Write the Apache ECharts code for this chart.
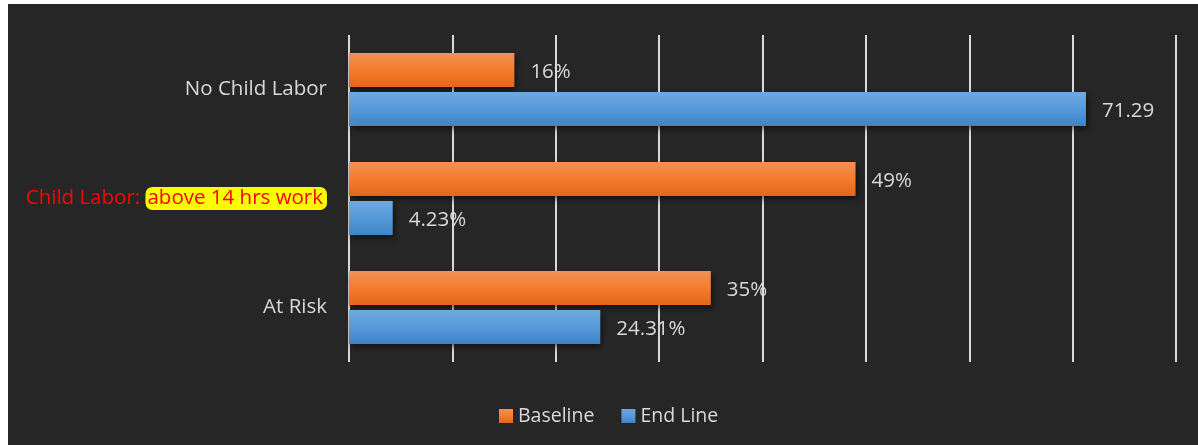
<!DOCTYPE html>
<html>
<head>
<meta charset="utf-8">
<script src="https://cdn.jsdelivr.net/npm/echarts@6/dist/echarts.min.js"></script>
<style>
  html, body { margin: 0; padding: 0; background: #ffffff; }
  #chart { position: absolute; left: 8px; top: 4px; width: 1190px; height: 441px; background: #262626; }
</style>
</head>
<body>
<div id="chart"></div>
<script>
// Categories listed top to bottom
const categories = ['No Child Labor', 'Child Labor: above 14 hrs work', 'At Risk'];
const baselineValues = [16, 49, 35];
const endLineValues = [71.29, 4.23, 24.31];
const baselineLabels = ['16%', '49%', '35%'];
const endLineLabels = ['71.29', '4.23%', '24.31%'];
const seriesNames = ['Baseline', 'End Line'];

const FONT = '"Open Sans", "Noto Sans", sans-serif';
const TEXT = '#d9d9d9';
const SIZE = 20.5;

const orangeFill = new echarts.graphic.LinearGradient(0, 0, 0, 1, [
  { offset: 0, color: '#f39158' },
  { offset: 0.5, color: '#f47c2c' },
  { offset: 1, color: '#e4661a' }
]);
const blueFill = new echarts.graphic.LinearGradient(0, 0, 0, 1, [
  { offset: 0, color: '#70a8de' },
  { offset: 0.5, color: '#559ad9' },
  { offset: 1, color: '#3e84c6' }
]);

function barSeries(name, values, labels, fill, legendColor) {
  return {
    name: name,
    type: 'bar',
    data: values,
    barWidth: 34,
    barGap: '15%',
    color: legendColor,
    itemStyle: {
      color: fill,
      shadowColor: 'rgba(0,0,0,0.55)',
      shadowBlur: 6,
      shadowOffsetX: 2,
      shadowOffsetY: 3
    },
    label: {
      show: true,
      position: 'right',
      distance: 16,
      offset: [0, 2],
      color: TEXT,
      fontFamily: FONT,
      fontSize: SIZE,
      formatter: p => labels[p.dataIndex]
    }
  };
}

const chart = echarts.init(document.getElementById('chart'));
chart.setOption({
  backgroundColor: '#262626',
  animation: false,
  legend: {
    data: seriesNames,
    left: 486,
    top: 397,
    itemWidth: 14,
    itemHeight: 14,
    itemGap: 27,
    icon: 'rect',
    textStyle: { color: TEXT, fontFamily: FONT, fontSize: 19.5 }
  },
  grid: { left: 341, right: 22, top: 31, bottom: 83, containLabel: false },
  xAxis: {
    type: 'value',
    min: 0,
    max: 80,
    interval: 10,
    axisLabel: { show: false },
    axisLine: { show: false },
    axisTick: { show: false },
    splitLine: { show: true, lineStyle: { color: '#d9d9d9', width: 2 } }
  },
  yAxis: {
    type: 'category',
    inverse: true,
    data: categories,
    axisLine: { show: false },
    axisTick: { show: false },
    axisLabel: {
      margin: 22,
      color: TEXT,
      fontFamily: FONT,
      fontSize: SIZE,
      formatter: function (v) {
        const i = v.indexOf(': ');
        if (i < 0) return v;
        return '{r|' + v.slice(0, i + 2) + '}{h|' + v.slice(i + 2) + '}';
      },
      rich: {
        r: { color: '#ff0000', fontFamily: FONT, fontSize: SIZE },
        h: {
          color: '#ff0000', fontFamily: FONT, fontSize: SIZE,
          backgroundColor: '#ffff00', borderRadius: 7, padding: [1, 4, 1, 2]
        }
      }
    }
  },
  series: [
    barSeries(seriesNames[0], baselineValues, baselineLabels, orangeFill, '#f47c2c'),
    barSeries(seriesNames[1], endLineValues, endLineLabels, blueFill, '#559ad9')
  ]
});
</script>
</body>
</html>
